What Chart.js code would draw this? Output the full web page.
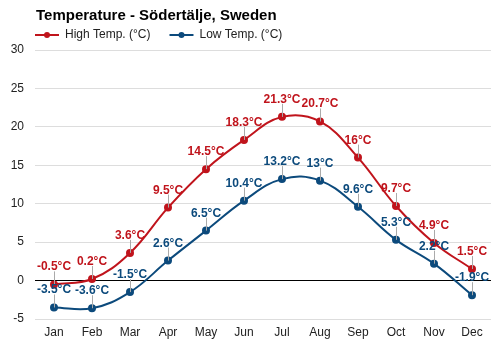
<!DOCTYPE html>
<html>
<head>
<meta charset="utf-8">
<script src="https://cdn.jsdelivr.net/npm/chart.js@4"></script>
<style>
  body { margin: 0; background: #fff; }
  #wrap { width: 500px; height: 350px; }
</style>
</head>
<body>
<div id="wrap"><canvas id="tempChart" width="500" height="350"></canvas></div>
<script>
const months = ['Jan', 'Feb', 'Mar', 'Apr', 'May', 'Jun', 'Jul', 'Aug', 'Sep', 'Oct', 'Nov', 'Dec'];
const highTemps = [-0.5, 0.2, 3.6, 9.5, 14.5, 18.3, 21.3, 20.7, 16, 9.7, 4.9, 1.5];
const lowTemps = [-3.5, -3.6, -1.5, 2.6, 6.5, 10.4, 13.2, 13, 9.6, 5.3, 2.2, -1.9];
const yTicks = [-5, 0, 5, 10, 15, 20, 25, 30];

const titleText = 'Temperature - Södertälje, Sweden';
const highColor = '#c0141c';
const lowColor = '#0c4a7c';
const fontFam = '"Liberation Sans", Arial, sans-serif';

// title + legend drawn in the top margin
const headerPlugin = {
    id: 'header',
    afterDraw(chart) {
        const ctx = chart.ctx;
        ctx.save();
        ctx.fillStyle = '#000';
        ctx.font = 'bold 15px ' + fontFam;
        ctx.textBaseline = 'middle';
        ctx.textAlign = 'left';
        ctx.fillText(titleText, 36, 16);

        let x = 35;
        ctx.font = '12px ' + fontFam;
        chart.data.datasets.forEach(ds => {
            ctx.strokeStyle = ds.borderColor;
            ctx.lineWidth = 2;
            ctx.beginPath();
            ctx.moveTo(x, 35);
            ctx.lineTo(x + 24, 35);
            ctx.stroke();
            ctx.fillStyle = ds.borderColor;
            ctx.beginPath();
            ctx.arc(x + 12, 35, 3, 0, Math.PI * 2);
            ctx.fill();
            ctx.fillStyle = '#222';
            ctx.fillText(ds.label, x + 30, 35);
            x += 30 + ctx.measureText(ds.label).width + 19;
        });
        ctx.restore();
    }
};

// value labels with small leader lines
const valueLabels = {
    id: 'valueLabels',
    afterDatasetsDraw(chart) {
        const ctx = chart.ctx;
        ctx.save();
        ctx.font = 'bold 12px ' + fontFam;
        ctx.textAlign = 'center';
        ctx.textBaseline = 'alphabetic';
        chart.data.datasets.forEach((ds, i) => {
            const meta = chart.getDatasetMeta(i);
            meta.data.forEach((pt, j) => {
                ctx.strokeStyle = '#aaa';
                ctx.lineWidth = 1;
                ctx.beginPath();
                ctx.moveTo(Math.round(pt.x) + 0.5, pt.y);
                ctx.lineTo(Math.round(pt.x) + 0.5, pt.y - 13);
                ctx.stroke();
                ctx.fillStyle = ds.borderColor;
                ctx.fillText(ds.data[j] + '°C', pt.x, pt.y - 14);
            });
        });
        ctx.restore();
    }
};

const ctx = document.getElementById('tempChart').getContext('2d');
new Chart(ctx, {
    type: 'line',
    data: {
        labels: months,
        datasets: [{
            label: 'High Temp. (°C)',
            data: highTemps,
            borderColor: highColor,
            backgroundColor: highColor,
            borderWidth: 2,
            pointRadius: 3,
            tension: 0.4
        }, {
            label: 'Low Temp. (°C)',
            data: lowTemps,
            borderColor: lowColor,
            backgroundColor: lowColor,
            borderWidth: 2,
            pointRadius: 3,
            tension: 0.4
        }]
    },
    options: {
        responsive: false,
        animation: false,
        layout: {
            padding: { top: 50, right: 9, bottom: 0, left: 0 }
        },
        scales: {
            x: {
                offset: true,
                afterFit: axis => { axis.height = 31; },
                grid: { display: false, drawTicks: false },
                border: { display: false },
                ticks: {
                    color: '#222',
                    font: { size: 12, family: fontFam },
                    padding: 6
                }
            },
            y: {
                min: -5,
                max: 30,
                afterBuildTicks: axis => { axis.ticks = yTicks.map(v => ({ value: v })); },
                afterFit: axis => { axis.width = 35; },
                border: { display: false },
                grid: {
                    drawTicks: false,
                    color: c => c.tick.value === 0 ? '#000' : '#ddd'
                },
                ticks: {
                    color: '#222',
                    font: { size: 12, family: fontFam },
                    padding: 11
                }
            }
        },
        plugins: {
            legend: { display: false },
            title: { display: false },
            tooltip: { enabled: false }
        }
    },
    plugins: [headerPlugin, valueLabels]
});
</script>
</body>
</html>
